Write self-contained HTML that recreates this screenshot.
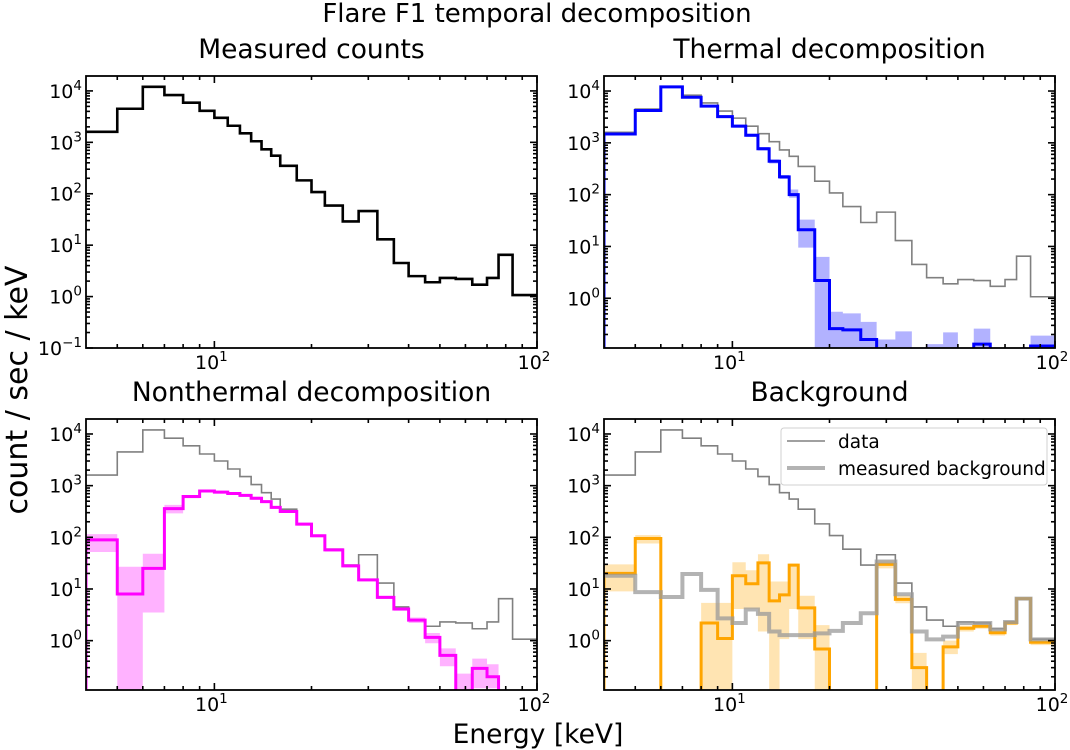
<!DOCTYPE html>
<html><head><meta charset="utf-8">
<style>
html,body{margin:0;padding:0;background:#fff;}
svg{display:block;font-family:"DejaVu Sans","Liberation Sans",sans-serif;}
</style></head>
<body>
<svg id="fig" width="1070" height="750" viewBox="0 0 1070 750" xmlns="http://www.w3.org/2000/svg">
<text x="537" y="22" font-size="26" text-anchor="middle">Flare F1 temporal decomposition</text>
<text transform="translate(27,390) rotate(-90)" font-size="30" text-anchor="middle">count / sec / keV</text>
<text x="538" y="743" font-size="26.5" text-anchor="middle">Energy [keV]</text>
</svg>
<script>
// ---- data ----
const binEdges = [4,5,6,7,8,9,10,11,12,13,14,15,16,18,20,22,25,28,32,36,40,45,50,56,63,70,76,84,100];
const dataCounts = [1600,4500,12000,8300,5900,4100,3000,2100,1500,1050,730,550,350,182,108,59,29,46,13,4.5,2.5,1.9,2.3,2.2,1.7,2.3,6.5,1.07];
const thermalFit = [1480,4200,12000,7600,5100,3200,2100,1400,770,440,220,100,21,2.2,0.26,0.245,0.16,0,0,0,0,0,0,0.13,0,0,0,0.12];
const thermalUpper = [1560,4450,12600,8000,5400,3400,2250,1500,830,480,240,126,33,6.3,0.55,0.51,0.35,0.16,0.23,0,0.13,0.22,0,0.26,0,0,0,0.19];
const thermalLower = [1400,3950,11400,7200,4800,3000,1950,1300,710,400,200,87,9.5,0,0,0,0,0,0,0,0,0,0,0,0,0,0,0];
const nonthermalFit = [89,8,25,360,615,790,750,705,650,570,490,380,316,180,107,57,28,15,6.9,4.1,2.5,1.16,0.52,0,0.29,0.2,0,0];
const nonthermalUpper = [115,27,48,425,660,840,800,750,690,610,520,405,335,192,114,61,30,16,7.4,4.4,2.8,1.41,0.71,0.23,0.45,0.35,0,0];
const nonthermalLower = [52,0,3.5,290,570,740,700,660,610,530,460,355,296,168,100,53,26,14,6.4,3.8,2.2,0.89,0.32,0,0.12,0.12,0,0];
const bkgFit = [20,95,0,0,2.2,1.1,18,12.6,32,5.9,7.7,29,4.3,0.69,0,0,0,30,6.3,0.3,0,0.76,1.74,1.9,1.42,2.2,6.5,0.93];
const bkgUpper = [30,110,0,0,5.4,5.4,33,23,47,14,14,31,7.4,2.0,0,0,0,36,7.5,0.58,0,1.0,1.95,2.1,1.6,2.4,6.9,1.05];
const bkgLower = [9,76,0,0,0,0,4.1,4.1,1.5,0,1.07,4.1,1.07,0,0,0,0,25,5.3,0,0,0.55,1.5,1.7,1.25,2.0,6.1,0.82];
const measuredBkg = [18,8.7,7,19.5,9.6,2.7,2.2,4,3.3,1.5,1.28,1.28,1.28,1.38,1.55,2.2,3.4,34,7.9,1.5,1.06,1.2,2.2,2.2,1.65,2.3,6.5,1.06];
const xTickLabels = [{v:10,e:'1'},{v:100,e:'2'}];
const yTickExponents = [-1,0,1,2,3,4];

// ---- layout ----
const NS='http://www.w3.org/2000/svg';
const svg=document.getElementById('fig');
function mk(tag,attrs,parent){const e=document.createElementNS(NS,tag);for(const k in attrs)e.setAttribute(k,attrs[k]);(parent||svg).appendChild(e);return e;}

const panels=[
 {id:'measured',title:'Measured counts',x:86,y:76,w:451,h:272,ymin:-1,ymax:4.29},
 {id:'thermal',title:'Thermal decomposition',x:604,y:76,w:451,h:272,ymin:-0.96,ymax:4.29},
 {id:'nonthermal',title:'Nonthermal decomposition',x:86,y:419,w:451,h:271,ymin:-0.955,ymax:4.29},
 {id:'background',title:'Background',x:604,y:419,w:451,h:271,ymin:-0.955,ymax:4.29}
];
const XMIN=Math.log10(4), XMAX=2;

function axes(p){
  p.sx=v=>p.x+(Math.log10(v)-XMIN)/(XMAX-XMIN)*p.w;
  p.sy=v=>{ if(v<=0) return p.y+p.h+20; const l=Math.log10(v); return p.y+(p.ymax-l)/(p.ymax-p.ymin)*p.h; };
}

function stepPath(p,vals,fromBottom){
  let d='';
  const bot=p.y+p.h+20;
  for(let i=0;i<vals.length;i++){
    const x0=p.sx(binEdges[i]),x1=p.sx(binEdges[i+1]),y=p.sy(vals[i]);
    if(i===0) d+= fromBottom ? `M${x0},${bot}L${x0},${y}` : `M${x0},${y}`;
    else d+=`L${x0},${y}`;
    d+=`L${x1},${y}`;
  }
  return d;
}
function bandPath(p,lo,hi){
  let d='';
  for(let i=0;i<lo.length;i++){
    if(hi[i]<=0) continue;
    const x0=p.sx(binEdges[i]),x1=p.sx(binEdges[i+1]);
    const y0=p.sy(hi[i]),y1=p.sy(lo[i]);
    d+=`M${x0},${y0}L${x1},${y0}L${x1},${y1}L${x0},${y1}Z`;
  }
  return d;
}

panels.forEach((p,pi)=>{
  axes(p);
  const g=mk('g',{});
  
  
  const t=mk('text',{x:p.x+p.w/2,y:p.y-18,'font-size':26.5,'text-anchor':'middle'},g);
  
  
  t.textContent=p.title;
  const cp=mk('clipPath',{id:'clip'+pi},g);
  mk('rect',{x:p.x,y:p.y,width:p.w,height:p.h},cp);
  const plot=mk('g',{'clip-path':`url(#clip${pi})`},g);
  
  

  function line(vals,color,width,name,fromBottom,opacity){
    const e=mk('path',{d:stepPath(p,vals,fromBottom),fill:'none',stroke:color,'stroke-width':width,'stroke-linejoin':'miter','stroke-opacity':opacity||1},plot);
    
    
  }
  function band(lo,hi,color,name){
    const e=mk('path',{d:bandPath(p,lo,hi),fill:color,'fill-opacity':0.3,stroke:'none'},plot);
    
    
  }
  if(p.id==='measured'){
    line(dataCounts,'#000',2.6,'data-counts-line',false);
  } else if(p.id==='thermal'){
    band(thermalLower,thermalUpper,'#0000ff','thermal-uncertainty-band');
    line(dataCounts,'#808080',1.6,'data-counts-line',false);
    line(thermalFit,'#0000ff',3,'thermal-fit-line',true);
  } else if(p.id==='nonthermal'){
    band(nonthermalLower,nonthermalUpper,'#ff00ff','nonthermal-uncertainty-band');
    line(dataCounts,'#808080',1.6,'data-counts-line',false);
    line(nonthermalFit,'#ff00ff',3,'nonthermal-fit-line',true);
  } else {
    band(bkgLower,bkgUpper,'#ffa500','background-uncertainty-band');
    line(dataCounts,'#808080',1.6,'data-counts-line',false);
    line(bkgFit,'#ffa500',3,'background-fit-line',true);
    line(measuredBkg,'#999999',4,'measured-background-line',false,0.75);
  }
  // frame
  const fr=mk('rect',{x:p.x,y:p.y,width:p.w,height:p.h,fill:'none',stroke:'#000','stroke-width':1.8},g);
  
  
  // x ticks
  const xt=[5,6,7,8,9,10,20,30,40,50,60,70,80,90,100];
  xt.forEach(v=>{
    const x=p.sx(v); const maj=(v===10||v===100); const L=maj?7:4;
    mk('line',{x1:x,y1:p.y+p.h,x2:x,y2:p.y+p.h-L,stroke:'#000','stroke-width':1.6},g);
    mk('line',{x1:x,y1:p.y,x2:x,y2:p.y+L,stroke:'#000','stroke-width':1.6},g);
  });
  xTickLabels.forEach(tk=>{
    const tt=mk('text',{x:p.sx(tk.v)-3,y:p.y+p.h+21,'font-size':19,'text-anchor':'middle'},g);
    
    
    tt.innerHTML='10<tspan dy="-8" font-size="13.5">'+tk.e+'</tspan>';
  });
  // y ticks
  for(let e=-1;e<=4;e++){
    for(let m=1;m<=9;m++){
      const v=m*Math.pow(10,e); const l=Math.log10(v);
      if(l<p.ymin-1e-6||l>p.ymax) continue;
      const y=p.sy(v); const L=m===1?7:4;
      mk('line',{x1:p.x,y1:y,x2:p.x+L,y2:y,stroke:'#000','stroke-width':1.6},g);
      mk('line',{x1:p.x+p.w,y1:y,x2:p.x+p.w-L,y2:y,stroke:'#000','stroke-width':1.6},g);
    }
  }
  yTickExponents.forEach(e=>{
    if(e<p.ymin-1e-6) return;
    const y=p.sy(Math.pow(10,e));
    const tt=mk('text',{x:p.x-4,y:y+7,'font-size':19,'text-anchor':'end'},g);
    
    
    const sup=e<0?'\u2212'+(-e):''+e;
    tt.innerHTML='10<tspan dy="-8" font-size="13.5">'+sup+'</tspan>';
  });
  if(p.id==='background'){
    const lg=mk('g',{},g);
    
    
    mk('rect',{x:781,y:428,width:266,height:57,rx:3,fill:'#fff','fill-opacity':0.85,stroke:'#d0d0d0','stroke-width':1},lg);
    const l1=mk('line',{x1:787,y1:441,x2:825,y2:441,stroke:'#808080','stroke-width':1.6},lg);
    
    
    const t1=mk('text',{x:838,y:448,'font-size':18.5},lg);
    
    
    t1.textContent='data';
    const l2=mk('line',{x1:787,y1:468,x2:825,y2:468,stroke:'#999','stroke-opacity':0.75,'stroke-width':4},lg);
    
    
    const t2=mk('text',{x:838,y:475,'font-size':18.5},lg);
    
    
    t2.textContent='measured background';
  }
});
</script>
</body></html>
